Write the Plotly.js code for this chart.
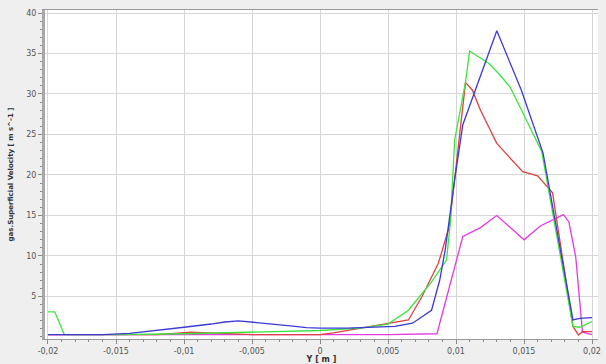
<!DOCTYPE html>
<html>
<head>
<meta charset="utf-8">
<script src="https://cdn.plot.ly/plotly-3.0.1.min.js"></script>
<style>html,body{margin:0;padding:0;background:#efefef;}#chart{width:606px;height:364px;}</style>
</head>
<body>
<div id="chart"></div>
<script>
// Series
const blueX  = [-0.02, -0.016, -0.014, -0.012, -0.010, -0.008, -0.007, -0.006, -0.005, -0.004, -0.002, -0.001, 0, 0.002, 0.004, 0.0055, 0.0068, 0.0082, 0.0088, 0.0092, 0.0099, 0.0105, 0.0130, 0.0148, 0.0164, 0.0186, 0.0191, 0.0200];
const blueY  = [0.3, 0.3, 0.45, 0.8, 1.2, 1.6, 1.85, 2.0, 1.85, 1.65, 1.35, 1.15, 1.1, 1.1, 1.2, 1.3, 1.7, 3.3, 7.0, 10.7, 19.4, 26.2, 37.8, 30.5, 22.7, 2.1, 2.3, 2.4];

const greenX = [-0.02, -0.0195, -0.0188, -0.015, -0.010, -0.005, 0, 0.003, 0.005, 0.0065, 0.0082, 0.0093, 0.0096, 0.0099, 0.0107, 0.0110, 0.0124, 0.0132, 0.0140, 0.0163, 0.0186, 0.0191, 0.0200];
const greenY = [3.1, 3.1, 0.3, 0.3, 0.4, 0.6, 0.8, 1.1, 1.6, 3.3, 6.8, 9.5, 14.4, 24.3, 31.5, 35.3, 33.8, 32.4, 30.8, 22.9, 1.3, 1.2, 1.9];

const redX   = [-0.02, -0.012, -0.0095, -0.007, -0.005, 0, 0.001, 0.003, 0.005, 0.0065, 0.0075, 0.0087, 0.0095, 0.0107, 0.0112, 0.0118, 0.0130, 0.0149, 0.0160, 0.0171, 0.0186, 0.0190, 0.0193, 0.0200];
const redY   = [0.3, 0.3, 0.6, 0.4, 0.3, 0.3, 0.5, 1.1, 1.7, 2.1, 5.0, 9.1, 13.6, 31.4, 30.5, 28.0, 23.9, 20.4, 19.9, 17.8, 1.3, 0.25, 0.65, 0.65];

const magX   = [-0.02, -0.01, 0, 0.005, 0.0086, 0.0105, 0.0118, 0.0130, 0.0150, 0.0162, 0.0179, 0.0183, 0.0188, 0.0193, 0.0200];
const magY   = [0.3, 0.3, 0.3, 0.3, 0.4, 12.4, 13.5, 15.0, 12.0, 13.7, 15.1, 14.2, 9.9, 0.6, 0.3];

const xTickVals = [-0.02, -0.015, -0.01, -0.005, 0, 0.005, 0.01, 0.015, 0.02];
const xTickText = ['-0,02', '-0,015', '-0,01', '-0,005', '0', '0,005', '0,01', '0,015', '0,02'];
const yTickVals = [5, 10, 15, 20, 25, 30, 35, 40];
const yTickText = ['5', '10', '15', '20', '25', '30', '35', '40'];

const mk = (x, y, c) => ({x: x, y: y, type: 'scatter', mode: 'lines', line: {color: c, width: 1.3}, hoverinfo: 'skip'});
const traces = [
  mk(magX, magY, '#e23be2'),
  mk(redX, redY, '#e04040'),
  mk(greenX, greenY, '#3ee43e'),
  mk(blueX, blueY, '#3a3ad8')
];

const fnt = {family: 'DejaVu Sans, Verdana, sans-serif', size: 8, color: '#555555'};
const layout = {
  width: 606, height: 364,
  margin: {l: 45, r: 8, t: 10, b: 25},
  paper_bgcolor: '#efefef',
  plot_bgcolor: '#ffffff',
  showlegend: false,
  font: fnt,
  xaxis: {
    range: [-0.02022, 0.02044],
    tickvals: xTickVals, ticktext: xTickText,
    showgrid: true, gridcolor: '#d6d6d6', gridwidth: 1,
    zeroline: false,
    showline: true, linecolor: '#9a9a9a', linewidth: 1, mirror: true,
    ticks: 'outside', ticklen: 4, tickcolor: '#888', tickfont: fnt,
    minor: {dtick: 0.001, ticks: 'outside', ticklen: 2, tickcolor: '#888', showgrid: false},
    title: {text: '<b>Y [ m ]</b>', font: {family: 'DejaVu Sans, Verdana, sans-serif', size: 8, color: '#333'}, standoff: 2}
  },
  yaxis: {
    range: [-0.25, 40.37],
    tickvals: yTickVals, ticktext: yTickText,
    showgrid: true, gridcolor: '#d6d6d6', gridwidth: 1,
    zeroline: false,
    showline: true, linecolor: '#a8a8a8', linewidth: 3,
    ticks: 'outside', ticklen: 4, tickcolor: '#888', tickfont: fnt,
    minor: {dtick: 1, ticks: 'outside', ticklen: 2, tickcolor: '#888', showgrid: false},
    title: {text: '<b>gas.Superficial Velocity [ m s^-1 ]</b>', font: {family: 'DejaVu Sans, Verdana, sans-serif', size: 7, color: '#333'}, standoff: 12}
  }
};

Plotly.newPlot('chart', traces, layout, {staticPlot: true, displayModeBar: false});
</script>
</body>
</html>
